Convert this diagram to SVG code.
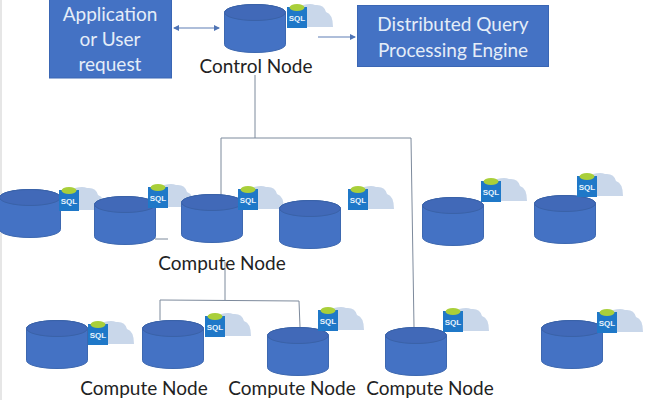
<svg xmlns="http://www.w3.org/2000/svg" xmlns:xlink="http://www.w3.org/1999/xlink" width="650" height="400" viewBox="0 0 650 400">
<style>
.lbl{font-family:"Lato","Liberation Sans",sans-serif;font-size:19px;fill:#222;text-anchor:middle}
.box{fill:#4472c4;stroke:#3a66b4;stroke-width:1}
.boxt{font-family:"Lato","Liberation Sans",sans-serif;font-size:19px;fill:#e4edf8;text-anchor:middle}
.sql{font-family:"Liberation Sans",sans-serif;font-size:8px;font-weight:bold;fill:#e8f3fc;text-anchor:middle}
.ln{fill:none;stroke:#7d8a9c;stroke-width:1}
.ar{fill:none;stroke:#5f7fb5;stroke-width:1.2}
</style>
<defs>
<symbol id="cyl" width="62" height="49" viewBox="0 0 62 49" overflow="visible">
<path d="M.5 8.500A30.500 8 0 0 1 61.500 8.500V40.500A30.500 8 0 0 1 .5 40.500Z" fill="#4472c4" stroke="#3d68b0"/>
<ellipse cx="31" cy="8.500" rx="30.500" ry="8" fill="#4169b8" stroke="#3a62a8"/>
</symbol>
<symbol id="ico" width="48" height="26" viewBox="0 0 48 26" overflow="visible">
<path d="M16 23V1Q24 -1 28 1Q37 0 39 8Q46 10 46 23Z" fill="#c9d7ea"/>
<rect x="0" y="3" width="20" height="21" fill="#1f78c8"/>
<ellipse cx="10" cy="3.500" rx="7.500" ry="3.500" fill="#a9cf3a"/>
</symbol>
<marker id="ah" markerWidth="6" markerHeight="6" refX="5" refY="3" orient="auto-start-reverse" markerUnits="userSpaceOnUse"><path d="M0 0L6 3L0 6Z" fill="#4f74b5"/></marker>
</defs>
<rect width="650" height="400" fill="#fff"/>
<rect x="0" y="0" width="2" height="400" fill="#e6e6e6"/>
<g id="connectors">
<path class="ln" d="M255 75V138"/>
<path class="ln" d="M221 195V138H411L414 327"/>
<path class="ln" d="M225 262V300"/>
<path class="ln" d="M160 320V300L299 301L300 327"/>
<path class="ln" d="M155 239H168"/>
<path class="ar" d="M174 28H219" marker-start="url(#ah)" marker-end="url(#ah)"/>
<path class="ar" d="M318 37H355" marker-end="url(#ah)"/>
</g>
<g id="app-request"><rect class="box" x="49.500" y="-2" width="122" height="80"/><text class="boxt" x="110" y="21">Application</text><text class="boxt" x="110" y="46">or User</text><text class="boxt" x="110" y="71">request</text></g>
<g id="query-engine"><rect class="box" x="357.500" y="5.500" width="191" height="61"/><text class="boxt" x="453" y="31">Distributed Query</text><text class="boxt" x="453" y="57">Processing Engine</text></g>
<g id="control-node"><use xlink:href="#cyl" x="224" y="4"/><use xlink:href="#ico" x="287" y="4"/><text class="sql" x="297" y="21">SQL</text><text class="lbl" x="256" y="73">Control Node</text></g>
<g id="node-a"><use xlink:href="#cyl" x="-1" y="189"/><use xlink:href="#ico" x="59" y="187"/><text class="sql" x="69" y="204">SQL</text></g>
<g id="node-b"><use xlink:href="#cyl" x="94" y="196"/><use xlink:href="#ico" x="148" y="184"/><text class="sql" x="158" y="201">SQL</text></g>
<g id="node-c"><use xlink:href="#cyl" x="181" y="194"/><use xlink:href="#ico" x="238" y="186"/><text class="sql" x="248" y="203">SQL</text></g>
<g id="node-d"><use xlink:href="#cyl" x="279" y="200"/><use xlink:href="#ico" x="348" y="186"/><text class="sql" x="358" y="203">SQL</text></g>
<g id="node-e"><use xlink:href="#cyl" x="422" y="197"/><use xlink:href="#ico" x="481" y="178"/><text class="sql" x="491" y="195">SQL</text></g>
<g id="node-f"><use xlink:href="#cyl" x="534" y="195"/><use xlink:href="#ico" x="577" y="173"/><text class="sql" x="587" y="190">SQL</text></g>
<g id="node-g"><use xlink:href="#cyl" x="26" y="320"/><use xlink:href="#ico" x="88" y="321"/><text class="sql" x="98" y="338">SQL</text></g>
<g id="node-h"><use xlink:href="#cyl" x="142" y="320"/><use xlink:href="#ico" x="205" y="313"/><text class="sql" x="215" y="330">SQL</text></g>
<g id="node-i"><use xlink:href="#cyl" x="267" y="327"/><use xlink:href="#ico" x="318" y="307"/><text class="sql" x="328" y="324">SQL</text></g>
<g id="node-j"><use xlink:href="#cyl" x="385" y="327"/><use xlink:href="#ico" x="443" y="308"/><text class="sql" x="453" y="325">SQL</text></g>
<g id="node-k"><use xlink:href="#cyl" x="541" y="320"/><use xlink:href="#ico" x="597" y="309"/><text class="sql" x="607" y="326">SQL</text></g>
<g id="labels">
<text class="lbl" x="222" y="270">Compute Node</text>
<text class="lbl" x="144" y="395">Compute Node</text>
<text class="lbl" x="292" y="395">Compute Node</text>
<text class="lbl" x="430" y="395">Compute Node</text>
</g>
</svg>
